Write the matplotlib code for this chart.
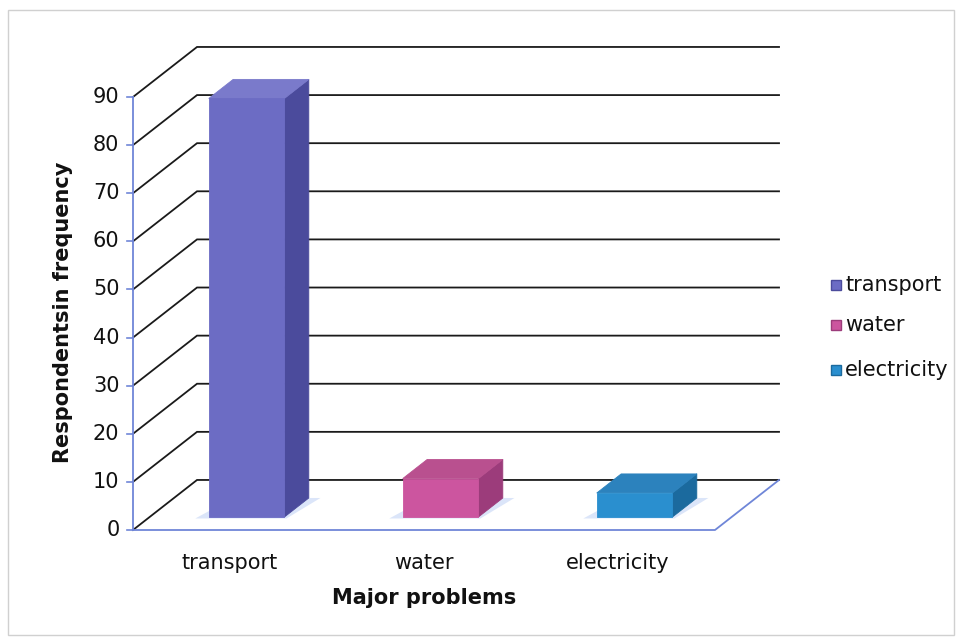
import numpy as np
import matplotlib
matplotlib.use("Agg")
import matplotlib.pyplot as plt
from matplotlib.patches import Polygon, Rectangle

plt.rcParams["font.family"] = ["DejaVu Sans"]

# ---- data ---------------------------------------------------------------
categories = ["transport", "water", "electricity"]
values = [87, 8, 5]
y_ticks = [0, 10, 20, 30, 40, 50, 60, 70, 80, 90]

# face colours per bar: (front, side, top)
bar_colors = [
    ("#6c6cc4", "#4b4b9c", "#7a7acb"),
    ("#cc559f", "#9c3c7b", "#b9508f"),
    ("#2a8fcf", "#1b6a9e", "#2c82bd"),
]
AXIS_BLUE = "#6f86d8"
GRID = "#1a1a1a"

# oblique depth offset (data units) for the back wall
DX, DY = 0.33, 10.4
BAR_W = 0.39
D_FRONT, D_BACK = 0.26, 0.64


def proj(x, v, d):
    return (x + d * DX, v + d * DY)


fig = plt.figure(figsize=(9.63, 6.41), dpi=100)
fig.patch.set_facecolor("white")
# light frame round the chart area
fig.add_artist(Rectangle((8 / 963, 6 / 641), 946 / 963, 625 / 641,
                         transform=fig.transFigure, fill=False,
                         edgecolor="#d0d0d0", lw=1.0))

ax = fig.add_axes([133 / 963, 111 / 641, 582 / 963, 433 / 641])
ax.set_xlim(0, 3)
ax.set_ylim(0, 90)
ax.axis("off")

n = len(categories)

# back wall gridlines + diagonals on the side wall
for t in y_ticks:
    x0, y0 = proj(0, t, 0)
    x1, y1 = proj(0, t, 1)
    x2, y2 = proj(n, t, 1)
    ax.plot([x0, x1, x2], [y0, y1, y2], color=GRID, lw=1.3,
            clip_on=False, zorder=1, solid_joinstyle="miter")

# floor front and right edges
fx = [proj(0, 0, 0), proj(n, 0, 0), proj(n, 0, 1)]
ax.plot([p[0] for p in fx], [p[1] for p in fx], color=AXIS_BLUE, lw=1.3,
        clip_on=False, zorder=2)

# front value axis with tick marks
ax.plot([0, 0], [0, y_ticks[-1]], color=AXIS_BLUE, lw=1.3, clip_on=False, zorder=2)
for t in y_ticks:
    ax.plot([-0.03, 0], [t, t], color=AXIS_BLUE, lw=1.2, clip_on=False, zorder=2)
    ax.text(-0.07, t, str(t), ha="right", va="center", fontsize=15, color="#111111")

# bars
for i, (val, (c_front, c_side, c_top)) in enumerate(zip(values, bar_colors)):
    xl = i + 0.5 - BAR_W / 2
    xr = i + 0.5 + BAR_W / 2

    # soft blue glow on the floor
    glow = [proj(xl - 0.06, 0, D_FRONT - 0.03), proj(xr + 0.02, 0, D_FRONT - 0.03),
            proj(xr + 0.06, 0, D_BACK), proj(xl, 0, D_BACK)]
    ax.add_patch(Polygon(glow, closed=True, facecolor="#c3d4f5", edgecolor="none",
                         alpha=0.6, clip_on=False, zorder=3))

    side = [proj(xr, 0, D_FRONT), proj(xr, 0, D_BACK),
            proj(xr, val, D_BACK), proj(xr, val, D_FRONT)]
    top = [proj(xl, val, D_FRONT), proj(xr, val, D_FRONT),
           proj(xr, val, D_BACK), proj(xl, val, D_BACK)]
    front = [proj(xl, 0, D_FRONT), proj(xr, 0, D_FRONT),
             proj(xr, val, D_FRONT), proj(xl, val, D_FRONT)]
    for poly, col in ((side, c_side), (top, c_top), (front, c_front)):
        ax.add_patch(Polygon(poly, closed=True, facecolor=col, edgecolor=col,
                             lw=0.6, joinstyle="round", clip_on=False, zorder=4))

    ax.text(i + 0.5, -4.8, categories[i], ha="center", va="top",
            fontsize=15, color="#111111")

ax.text(1.5, -12.0, "Major problems", ha="center", va="top",
        fontsize=15, fontweight="bold", color="#111111")
fig.text(63 / 963, 1 - 312 / 641, "Respondentsin frequency", rotation=90,
         ha="center", va="center", fontsize=15, fontweight="bold", color="#111111")

# legend
leg_y = [285, 325, 370]
for (c_front, c_side, c_top), lab, yy in zip(bar_colors, categories, leg_y):
    fig.add_artist(Rectangle((831 / 963, 1 - (yy + 5) / 641), 10 / 963, 10 / 641,
                             transform=fig.transFigure, facecolor=c_front,
                             edgecolor=c_side, lw=1.0))
    fig.text(845 / 963, 1 - yy / 641, lab, ha="left", va="center",
             fontsize=15, color="#111111")

fig.savefig("out.png", dpi=100)
